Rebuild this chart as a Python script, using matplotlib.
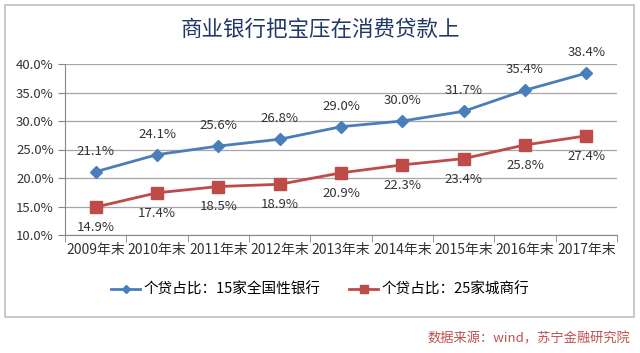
import matplotlib.pyplot as plt
from matplotlib.patches import Rectangle

plt.rcParams['font.family'] = ['Noto Sans CJK SC', 'DejaVu Sans']

years = ["2009年末", "2010年末", "2011年末", "2012年末", "2013年末",
         "2014年末", "2015年末", "2016年末", "2017年末"]
national_banks = [21.1, 24.1, 25.6, 26.8, 29.0, 30.0, 31.7, 35.4, 38.4]
city_banks = [14.9, 17.4, 18.5, 18.9, 20.9, 22.3, 23.4, 25.8, 27.4]
y_ticks = [10, 15, 20, 25, 30, 35, 40]

blue = "#4A7EBB"
red = "#BE4B48"

fig = plt.figure(figsize=(6.4, 3.53), dpi=100)
fig.patch.set_facecolor("white")

# outer chart border
fig.patches.append(Rectangle((5 / 640, 1 - 317 / 353), 629 / 640, 312 / 353,
                             transform=fig.transFigure, fill=False,
                             edgecolor="#BFBFBF", linewidth=1.2))

ax = fig.add_axes([65 / 640, 1 - 235 / 353, 552 / 640, 171 / 353])

x = list(range(len(years)))
ax.plot(x, national_banks, color=blue, linewidth=2, marker="D", markersize=6,
        label="个贷占比：15家全国性银行")
ax.plot(x, city_banks, color=red, linewidth=2, marker="s", markersize=8,
        label="个贷占比：25家城商行")

for i, v in enumerate(national_banks):
    ax.annotate(f"{v:.1f}%", (i, v), xytext=(0, 10), textcoords="offset points",
                ha="center", va="bottom", fontsize=9.5, color="#333333")
for i, v in enumerate(city_banks):
    ax.annotate(f"{v:.1f}%", (i, v), xytext=(0, -10), textcoords="offset points",
                ha="center", va="top", fontsize=9.5, color="#333333")

ax.set_xlim(-0.5, len(years) - 0.5)
ax.set_ylim(10, 40)
ax.set_yticks(y_ticks)
ax.set_yticklabels([f"{t:.1f}%" for t in y_ticks], fontsize=9.5, color="#333333")
ax.set_xticks(x)
ax.set_xticklabels(years, fontsize=10, color="#333333")
ax.set_xticks([i + 0.5 for i in range(-1, len(years))], minor=True)
ax.tick_params(axis="x", which="major", length=0, pad=6)
ax.tick_params(axis="x", which="minor", length=5, color="#868686")
ax.tick_params(axis="y", length=5, color="#868686", pad=3)

ax.grid(axis="y", color="#A6A6A6", linewidth=0.9)
ax.set_axisbelow(True)
for side in ["top", "right"]:
    ax.spines[side].set_visible(False)
ax.spines["left"].set_color("#868686")
ax.spines["bottom"].set_color("#868686")

fig.text(0.5, 1 - 30 / 353, "商业银行把宝压在消费贷款上", ha="center", va="center",
         fontsize=15.5, color="#1F3864")

fig.legend(loc="center", bbox_to_anchor=(0.5, 1 - 290 / 353), ncol=2,
           frameon=False, fontsize=10.5, handlelength=2.0, columnspacing=2.0,
           handletextpad=0.2, markerscale=0.75)

fig.text(630 / 640, 1 - 339 / 353, "数据来源：wind，苏宁金融研究院", ha="right",
         va="center", fontsize=9.5, color="#C0504D", style="italic")

plt.savefig("out.png", dpi=100)
